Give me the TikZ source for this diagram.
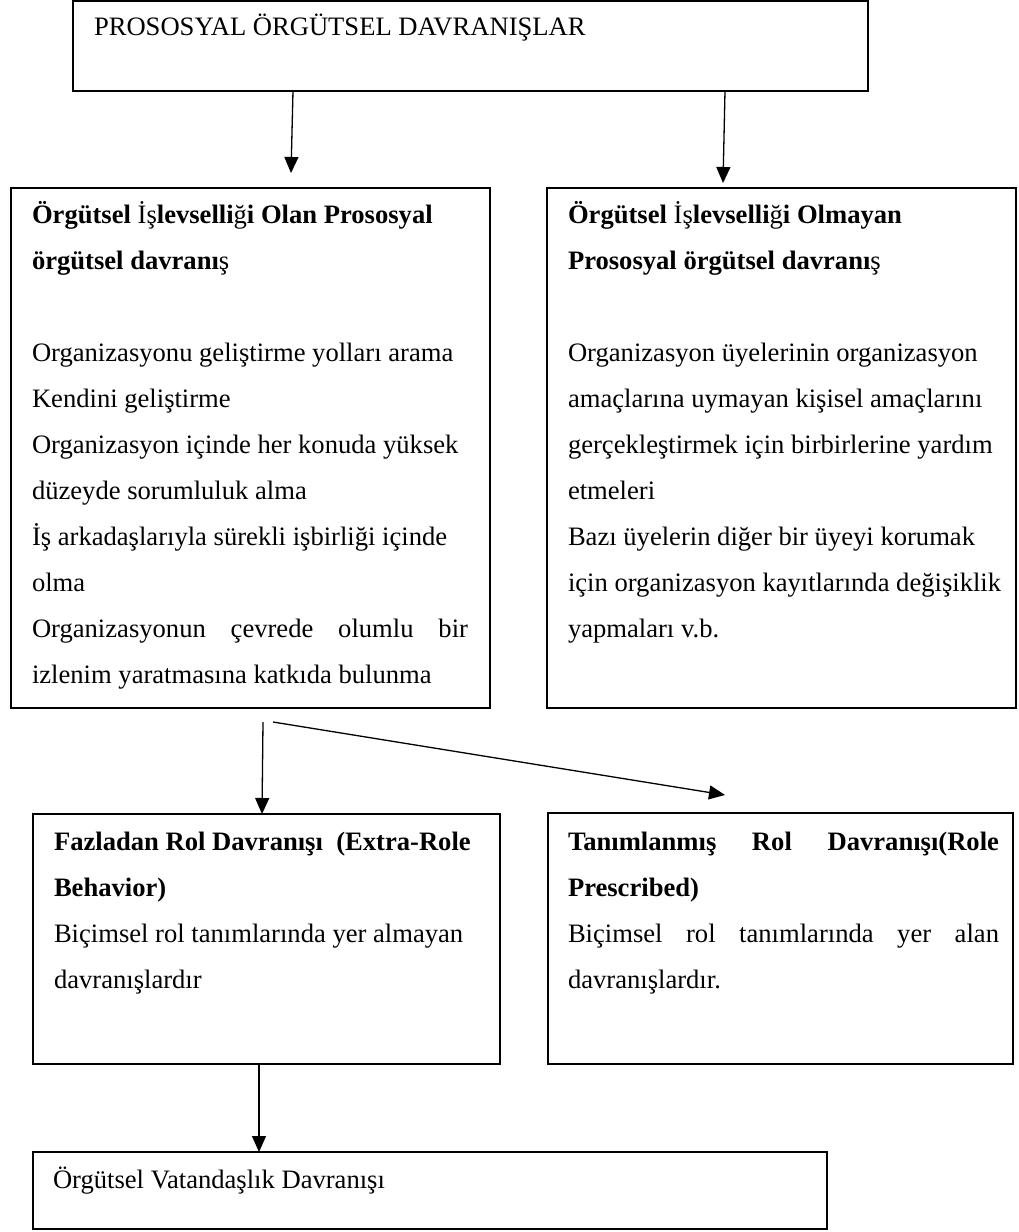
\documentclass[tikz,border=0pt]{standalone}
\usepackage{fontspec}
\setmainfont{Liberation Serif}
\usetikzlibrary{arrows.meta}
\begin{document}
\begin{tikzpicture}[x=1pt,y=-1pt,
  box/.style={draw, line width=1.4pt, inner sep=0pt, outer sep=0pt, anchor=north west},
  txt/.style={inner sep=0pt, outer sep=0pt, anchor=base west, align=left, font=\fontsize{26.6}{46}\selectfont},
  arr/.style={line width=1.3pt, -{Triangle[width=14pt,length=16pt]}}]
\useasboundingbox (0,0) rectangle (1018,1232);
% boxes
\node[box, minimum width=795pt, minimum height=90pt] (top) at (73,1) {};
\node[box, minimum width=479pt, minimum height=520pt] (left) at (11,188) {};
\node[box, minimum width=469pt, minimum height=520pt] (right) at (547,188) {};
\node[box, minimum width=467pt, minimum height=250pt] (bl) at (33,814) {};
\node[box, minimum width=465pt, minimum height=251pt] (br) at (548,813) {};
\node[box, minimum width=794pt, minimum height=77pt] (bottom) at (33,1152) {};
% texts (base anchor = baseline of the last line)
\node[txt] (toptxt) at (94,35) {PROSOSYAL ÖRGÜTSEL DAVRANIŞLAR};
\node[txt] (lefttxt) at (32,683) {\textbf{Örgütsel} İş\textbf{levselli}ğ\textbf{i Olan Prososyal}\\
\textbf{örgütsel davranı}ş\\[46pt]
Organizasyonu geliştirme yolları arama\\
Kendini geliştirme\\
Organizasyon içinde her konuda yüksek\\
düzeyde sorumluluk alma\\
İş arkadaşlarıyla sürekli işbirliği içinde\\
olma\\
\makebox[436pt][s]{Organizasyonun çevrede olumlu bir}\\
izlenim yaratmasına katkıda bulunma};
\node[txt] (righttxt) at (568,637) {\textbf{Örgütsel} İş\textbf{levselli}ğ\textbf{i Olmayan}\\
\textbf{Prososyal örgütsel davranı}ş\\[46pt]
Organizasyon üyelerinin organizasyon\\
amaçlarına uymayan kişisel amaçlarını\\
gerçekleştirmek için birbirlerine yardım\\
etmeleri\\
Bazı üyelerin diğer bir üyeyi korumak\\
için organizasyon kayıtlarında değişiklik\\
yapmaları v.b.};
\node[txt] (bltxt) at (54,988) {\textbf{Fazladan Rol Davranışı\ \ (Extra-Role}\\
\textbf{Behavior)}\\
Biçimsel rol tanımlarında yer almayan\\
davranışlardır};
\node[txt] (brtxt) at (568,988) {\makebox[431pt][s]{\textbf{Tanımlanmış Rol Davranışı(Role}}\\
\textbf{Prescribed)}\\
\makebox[431pt][s]{Biçimsel rol tanımlarında yer alan}\\
davranışlardır.};
\node[txt] (bottomtxt) at (53,1188) {Örgütsel Vatandaşlık Davranışı};
% arrow end points
\coordinate (a1s) at (293,91);
\coordinate (a1e) at (291,173);
\coordinate (a2s) at (725,91);
\coordinate (a2e) at (723,183);
\coordinate (a3s) at (263,722);
\coordinate (a3e) at (262,814);
\coordinate (a4s) at (273,722);
\coordinate (a4e) at (725,795);
\coordinate (a5s) at (259,1064);
\coordinate (a5e) at (259,1152);
\draw[arr] (a1s) -- (a1e);
\draw[arr] (a2s) -- (a2e);
\draw[arr] (a3s) -- (a3e);
\draw[arr] (a4s) -- (a4e);
\draw[arr] (a5s) -- (a5e);
\end{tikzpicture}
\end{document}
